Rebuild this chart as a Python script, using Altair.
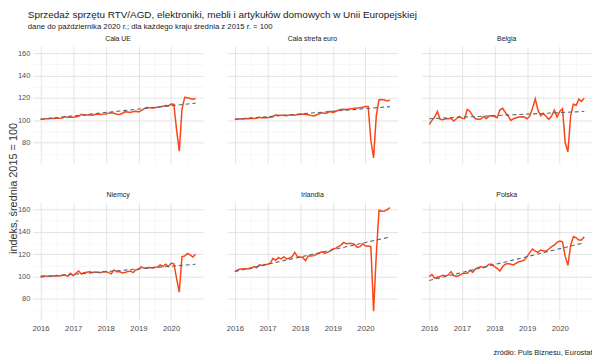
import altair as alt
import pandas as pd

countries = ["Cała UE", "Cała strefa euro", "Belgia", "Niemcy", "Irlandia", "Polska"]
start_year = 2016
n_months = 58  # styczeń 2016 - październik 2020

cala_ue = [
    101.0, 101.2, 101.5, 101.4, 101.8, 101.6, 102.0, 101.8, 102.2, 103.5, 102.5, 103.0,
    102.8, 103.2, 103.6, 105.4, 104.6, 104.8, 105.0, 104.7, 105.3, 105.6, 105.2, 105.6,
    105.8, 106.5, 106.8, 106.4, 105.5, 105.3, 106.2, 107.6, 107.4, 107.0, 107.8, 108.2,
    107.6, 108.8, 110.2, 111.6, 111.2, 111.0, 111.3, 111.8, 112.2, 112.6, 113.4, 113.0,
    114.6, 114.4, 92.0, 72.5, 110.0, 120.6, 120.2, 119.6, 119.0, 119.6,
]
strefa_euro = [
    101.0, 101.2, 101.4, 101.3, 101.7, 101.5, 101.9, 101.7, 102.0, 102.7, 102.2, 102.6,
    102.4, 102.9, 103.3, 105.0, 104.3, 104.5, 104.6, 104.2, 104.8, 105.0, 104.6, 105.2,
    105.2, 105.6, 105.3, 105.0, 104.5, 103.9, 104.8, 106.0, 106.8, 106.2, 106.8, 108.0,
    107.0, 108.0, 109.0, 109.8, 110.0, 109.7, 110.2, 110.5, 110.8, 111.0, 111.4, 111.8,
    112.4, 112.4, 82.0, 66.5, 104.5, 118.4, 118.6, 118.3, 117.4, 118.0,
]
belgia = [
    96.4, 100.0, 103.0, 108.0, 101.0, 100.5, 101.5, 101.5, 102.0, 99.4, 101.5, 103.6,
    102.0, 101.5, 109.8, 108.0, 104.0, 101.5, 101.0, 101.2, 103.5, 101.5, 103.9, 104.2,
    103.5, 102.4, 109.5, 110.8, 107.0, 104.0, 100.0, 101.5, 102.4, 103.0, 103.3, 103.0,
    101.5, 104.0, 111.0, 119.3, 108.9, 104.0, 106.2, 103.5, 101.0, 103.9, 109.2, 103.0,
    108.0, 110.4, 80.0, 72.0, 104.0, 114.5, 113.3, 119.0, 117.0, 119.9,
]
niemcy = [
    100.0, 100.6, 100.2, 100.4, 100.8, 100.4, 100.9, 100.5, 101.2, 101.5, 100.2, 103.0,
    100.8, 103.0, 105.0, 102.3, 103.5, 103.9, 104.2, 103.6, 104.0, 103.8, 103.5, 104.3,
    104.5, 103.5, 102.4, 105.9, 104.4, 104.6, 103.2, 103.6, 104.4, 105.0, 103.6, 105.9,
    106.5, 108.9, 107.4, 107.8, 108.0, 107.6, 108.3, 108.6, 110.4, 108.9, 111.0, 108.9,
    111.9, 111.6, 98.5, 86.0, 117.8, 118.4, 120.7, 119.3, 117.5, 119.9,
]
irlandia = [
    104.4, 105.9, 106.8, 106.8, 106.9, 107.0, 107.4, 108.9, 108.0, 110.4, 109.8, 110.5,
    111.0, 111.9, 116.3, 114.5, 116.9, 115.7, 117.8, 115.7, 116.3, 117.8, 121.6, 117.8,
    117.5, 116.9, 114.2, 118.4, 118.4, 118.7, 119.9, 120.7, 122.2, 120.7, 121.6, 122.8,
    124.6, 125.2, 126.7, 128.1, 130.5, 129.3, 129.6, 129.6, 128.7, 126.1, 126.7, 129.3,
    127.3, 127.3, 126.7, 68.9, 120.0, 159.3, 158.4, 158.6, 159.9, 161.6,
]
polska = [
    100.0, 101.8, 98.5, 99.4, 100.0, 101.2, 100.6, 101.5, 104.4, 100.9, 100.0, 100.9,
    102.4, 103.0, 103.0, 105.6, 103.9, 106.8, 108.0, 108.9, 108.0, 108.9, 111.0, 111.0,
    108.9, 107.4, 105.0, 108.9, 111.0, 111.6, 111.0, 110.4, 111.9, 113.3, 113.9, 114.8,
    117.8, 121.6, 124.6, 122.8, 121.6, 123.7, 122.8, 122.8, 124.6, 126.7, 128.1, 130.5,
    131.7, 131.0, 118.0, 110.0, 128.1, 135.6, 134.7, 132.6, 132.6, 135.6,
]
series = [cala_ue, strefa_euro, belgia, niemcy, irlandia, polska]

# linia trendu (przerywana): wartość na początku i na końcu okresu
trend_start = [101.0, 101.0, 101.5, 99.5, 104.5, 96.5]
trend_end = [115.4, 112.3, 108.0, 111.0, 135.3, 130.2]

title_text = "Sprzedaż sprzętu RTV/AGD, elektroniki, mebli i artykułów domowych w Unii Europejskiej"
subtitle_text = "dane do października 2020 r.; dla każdego kraju średnia z 2015 r. = 100"
y_title = "indeks, średnia 2015 = 100"
caption = "źródło: Puls Biznesu, Eurostat"

x_ticks = [2016, 2016.5, 2017, 2017.5, 2018, 2018.5, 2019, 2019.5, 2020, 2020.5]
y_ticks = [70, 80, 90, 100, 110, 120, 130, 140, 150, 160]

months = [start_year + i / 12 for i in range(n_months)]

RED = "#fa4616"
TREND = "#56677a"
FONT = "Liberation Sans"

x_scale = alt.Scale(domain=[2015.7625, 2020.9875], nice=False, zero=False)
y_scale = alt.Scale(domain=[61.75, 166.35], nice=False, zero=False)

MAJOR, MINOR = "#e4e4e4", "#f1f1f1"
grid_x_color = {"condition": {"test": "datum.value % 1 !== 0", "value": MINOR}, "value": MAJOR}
grid_x_width = {"condition": {"test": "datum.value % 1 !== 0", "value": 0.6}, "value": 1}
grid_y_color = {"condition": {"test": "datum.value % 20 !== 0", "value": MINOR}, "value": MAJOR}
grid_y_width = {"condition": {"test": "datum.value % 20 !== 0", "value": 0.6}, "value": 1}


def panel(idx):
    row, col = divmod(idx, 3)
    d = pd.DataFrame({"t": months, "v": series[idx]})
    tr = pd.DataFrame({"t": [months[0], months[-1]], "v": [trend_start[idx], trend_end[idx]]})

    x_kw = dict(values=x_ticks, tickCount=40, ticks=False, domain=False, gridColor=grid_x_color,
                gridWidth=grid_x_width, labelFontSize=7.8, labelColor="#4d4d4d",
                labelFont=FONT, labelPadding=5, labelOverlap=False)
    if row == 1:
        x_kw["labelExpr"] = "datum.value % 1 === 0 ? format(datum.value, 'd') : ''"
    else:
        x_kw["labels"] = False
    if idx == 5:
        x_kw.update(title=caption, titleAnchor="end", titleFontSize=7.5, titleFontWeight="normal",
                    titleColor="#1a1a1a", titleFont=FONT, titlePadding=17)
    else:
        x_kw["title"] = None

    y_kw = dict(values=y_ticks, tickCount=40, ticks=False, domain=False, gridColor=grid_y_color,
                gridWidth=grid_y_width, labelFontSize=7.5, labelColor="#4d4d4d",
                labelFont=FONT, labelPadding=3, labelOverlap=False)
    if col == 0:
        y_kw["labelExpr"] = "datum.value % 20 === 0 ? format(datum.value, 'd') : ''"
    else:
        y_kw["labels"] = False
    if idx == 0:
        y_kw.update(title=y_title, titleFontSize=11, titleFontWeight="normal", titleColor="#333333",
                    titleFont=FONT, titleY=143, titleX=-19, titleBaseline="middle",
                    titleAlign="center", titleAngle=270)
    else:
        y_kw["title"] = None

    line = alt.Chart(d).mark_line(color=RED, strokeWidth=1.5).encode(
        x=alt.X("t:Q", scale=x_scale, axis=alt.Axis(**x_kw)),
        y=alt.Y("v:Q", scale=y_scale, axis=alt.Axis(**y_kw)),
    )
    trend = alt.Chart(tr).mark_line(color=TREND, strokeWidth=1.1, strokeDash=[4, 3]).encode(
        x=alt.X("t:Q", scale=x_scale),
        y=alt.Y("v:Q", scale=y_scale),
    )
    return alt.layer(line, trend).properties(
        width=172, height=118,
        title=alt.TitleParams(countries[idx], fontSize=7, font=FONT, fontWeight="normal",
                              color="#1a1a1a", offset=4, anchor="middle"),
    )


chart = alt.concat(*[panel(i) for i in range(6)], columns=3, spacing={"row": 39.5, "column": 24},
                   bounds="flush").properties(
    title=alt.TitleParams(title_text, subtitle=subtitle_text, anchor="start", fontSize=10,
                          font=FONT, fontWeight="normal", color="#1a1a1a", subtitleFont=FONT,
                          subtitleFontSize=7.8, subtitleColor="#1a1a1a", subtitlePadding=3,
                          offset=5, dx=20),
    padding={"left": 0, "top": 0, "right": 0, "bottom": 0},
).configure_view(stroke=None)

chart.save("out.html", embed_options={"renderer": "svg", "actions": False})
